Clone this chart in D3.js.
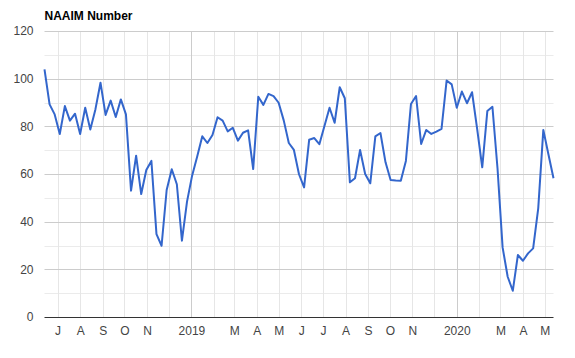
<!DOCTYPE html>
<html>
<head>
<meta charset="utf-8">
<script src="https://cdn.jsdelivr.net/npm/d3@7"></script>
<style>
  html, body { margin: 0; padding: 0; background: #fff; }
  svg { display: block; }
</style>
</head>
<body>
<div id="chart"></div>
<script>
// ---- data ----
const title = "NAAIM Number";
const startDate = "2018-06-13"; // first weekly reading (Wednesday)
const values = [
  103.9, 89.2, 85.0, 76.8, 88.5, 82.4, 85.3, 76.8, 87.8, 78.7,
  87.1, 98.3, 84.8, 90.8, 83.9, 91.3, 85.0, 53.0, 67.7, 51.6,
  61.7, 65.5, 34.8, 29.9, 53.3, 62.0, 55.7, 32.0, 48.4, 59.3,
  67.3, 75.8, 73.0, 76.4, 83.8, 82.4, 77.9, 79.4, 74.0, 77.3,
  78.3, 62.1, 92.4, 89.0, 93.6, 92.7, 89.9, 82.5, 73.0, 70.1,
  59.9, 54.4, 74.4, 75.1, 72.5, 80.1, 87.8, 81.5, 96.4, 91.8,
  56.5, 58.2, 70.1, 60.0, 56.1, 75.8, 77.2, 64.9, 57.5, 57.3,
  57.2, 65.5, 89.4, 92.7, 72.6, 78.5, 76.8, 77.8, 78.9, 99.2,
  97.6, 87.8, 94.6, 89.7, 94.3, 78.9, 62.8, 86.4, 88.2, 62.4,
  29.2, 16.9, 11.0, 26.0, 23.6, 26.7, 28.8, 45.6, 78.5, 68.3,
  58.2
];
const monthTicks = [
  "2018-07-01","2018-08-01","2018-09-01","2018-10-01","2018-11-01","2018-12-01",
  "2019-01-01","2019-02-01","2019-03-01","2019-04-01","2019-05-01","2019-06-01",
  "2019-07-01","2019-08-01","2019-09-01","2019-10-01","2019-11-01","2019-12-01",
  "2020-01-01","2020-02-01","2020-03-01","2020-04-01","2020-05-01"
];
const monthLabels = [
  "J","A","S","O","N","",
  "2019","","M","A","M","J",
  "J","A","S","O","N","",
  "2020","","M","A","M"
];
const yTicks = [0, 20, 40, 60, 80, 100, 120];
const yMinorTicks = [10, 30, 50, 70, 90, 110];

// ---- layout ----
const W = 575, H = 358;
const mLeft = 44.5, mRight = 553.5, mTop = 31, mBottom = 317;
const font = "'Liberation Sans', Arial, sans-serif";

const parse = d3.timeParse("%Y-%m-%d");
const t0 = parse(startDate);
const data = values.map((v, i) => ({ date: d3.timeDay.offset(t0, 7 * i), value: v }));

const x = d3.scaleTime()
  .domain([data[0].date, data[data.length - 1].date])
  .range([mLeft, mRight]);
const y = d3.scaleLinear().domain([0, 120]).range([mBottom, mTop]);

const svg = d3.select("#chart").append("svg")
  .attr("width", W).attr("height", H)
  .style("font-family", font);

svg.append("rect").attr("width", W).attr("height", H).attr("fill", "#fff");

// minor horizontal gridlines
svg.append("g").selectAll("line").data(yMinorTicks).join("line")
  .attr("x1", mLeft).attr("x2", mRight)
  .attr("y1", d => Math.round(y(d)) + 0.5).attr("y2", d => Math.round(y(d)) + 0.5)
  .attr("stroke", "#ebebeb").attr("stroke-width", 1);

// vertical gridlines
const ticks = monthTicks.map(parse);
svg.append("g").selectAll("line").data(ticks).join("line")
  .attr("x1", d => Math.round(x(d)) + 0.5).attr("x2", d => Math.round(x(d)) + 0.5)
  .attr("y1", mTop).attr("y2", mBottom)
  .attr("stroke", d => d.getMonth() === 0 ? "#cccccc" : "#e6e6e6")
  .attr("stroke-width", 1);

// major horizontal gridlines
svg.append("g").selectAll("line").data(yTicks.filter(d => d !== 0)).join("line")
  .attr("x1", mLeft).attr("x2", mRight)
  .attr("y1", d => Math.round(y(d)) + 0.5).attr("y2", d => Math.round(y(d)) + 0.5)
  .attr("stroke", "#cccccc").attr("stroke-width", 1);

// y axis labels
const yAxis = d3.axisLeft(y).tickValues(yTicks).tickSize(0).tickPadding(0).tickFormat(d3.format("d"));
const gy = svg.append("g").attr("transform", `translate(${mLeft - 11},0)`).call(yAxis);
gy.select(".domain").remove();
gy.selectAll("text").attr("fill", "#444").style("font-size", "12px").style("font-family", font);

// x axis labels
const xAxis = d3.axisBottom(x).tickValues(ticks).tickSize(0).tickPadding(0)
  .tickFormat((d, i) => monthLabels[i]);
const gx = svg.append("g").attr("transform", `translate(0,${mBottom + 9})`).call(xAxis);
gx.select(".domain").remove();
gx.selectAll("text").attr("fill", "#444").style("font-size", "12px").style("font-family", font);

// line
const line = d3.line().x(d => x(d.date)).y(d => y(d.value));
svg.append("path").datum(data)
  .attr("d", line)
  .attr("fill", "none")
  .attr("stroke", "#3366cc")
  .attr("stroke-width", 2)
  .attr("stroke-linejoin", "round");

// baseline
svg.append("line")
  .attr("x1", mLeft).attr("x2", mRight)
  .attr("y1", Math.round(y(0)) + 0.5).attr("y2", Math.round(y(0)) + 0.5)
  .attr("stroke", "#333").attr("stroke-width", 1);

// title
svg.append("text")
  .attr("x", mLeft).attr("y", 19.5)
  .attr("fill", "#000")
  .style("font-size", "12px").style("font-weight", "bold")
  .text(title);
</script>
</body>
</html>
